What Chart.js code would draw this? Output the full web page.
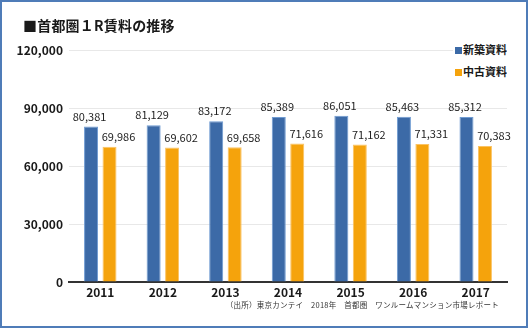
<!DOCTYPE html>
<html lang="ja">
<head>
<meta charset="utf-8">
<title>首都圏１R賃料の推移</title>
<script src="https://cdn.jsdelivr.net/npm/chart.js@4/dist/chart.umd.min.js"></script>
<style>
  html, body { margin: 0; padding: 0; background: #fff; }
  #wrap { position: relative; width: 530px; height: 330px; overflow: hidden;
          font-family: 'Noto Sans CJK JP', sans-serif; color: #1a1a1a; }
  #chart { position: absolute; left: 0; top: 0; }
  #frame { position: absolute; left: 0; top: 0; width: 528px; height: 328px;
           box-sizing: border-box; border: 2px solid #4f7cb8; pointer-events: none; }
  #title { position: absolute; left: 23px; top: 15px; font-size: 14px; font-weight: bold;
           line-height: 20px; white-space: nowrap; letter-spacing: 0.2px; }
  #legend { position: absolute; left: 453px; top: 38px; background: #fff; padding-left: 2px;
            font-size: 11px; font-weight: bold; line-height: 22px; }
  #legend span.box { display: inline-block; width: 7px; height: 7px; margin-right: 1px;
                     vertical-align: 0px; }
  #note { position: absolute; right: 31px; top: 300px; font-size: 7.5px; line-height: 10px;
          white-space: nowrap; color: #333; letter-spacing: 0.25px; }
</style>
</head>
<body>
<div id="wrap">
  <canvas id="chart" width="530" height="330"></canvas>
  <div id="title">■首都圏１R賃料の推移</div>
  <div id="legend"></div>
  <div id="note">（出所）東京カンテイ　2018年　首都圏　ワンルームマンション市場レポート</div>
  <div id="frame"></div>
</div>
<script>
// --- data ---
const years = ['2011', '2012', '2013', '2014', '2015', '2016', '2017'];
const newRent = [80381, 81129, 83172, 85389, 86051, 85463, 85312];   // 新築資料
const usedRent = [69986, 69602, 69658, 71616, 71162, 71331, 70383];  // 中古資料
const seriesNames = ['新築資料', '中古資料'];
const yMax = 120000;
const yStep = 30000;

const colors = ['#3c6aa7', '#f5a30c'];
const edgeColors = ['#6f9bd2', '#fbc363'];

Chart.defaults.font.family = "'Noto Sans CJK JP', sans-serif";
Chart.defaults.color = '#1a1a1a';

// value labels above each bar (no datalabels plugin available)
const valueLabels = {
    id: 'valueLabels',
    afterDatasetsDraw(chart) {
        const ctx = chart.ctx;
        const shift = [-1.5, 9];
        ctx.save();
        ctx.font = "11px 'Noto Sans CJK JP', sans-serif";
        ctx.fillStyle = '#222';
        ctx.textAlign = 'center';
        ctx.textBaseline = 'middle';
        chart.data.datasets.forEach((ds, i) => {
            chart.getDatasetMeta(i).data.forEach((bar, j) => {
                ctx.fillText(ds.data[j].toLocaleString('en-US'), bar.x + shift[i], bar.y - 10);
            });
        });
        ctx.restore();
    }
};

const ctx = document.getElementById('chart').getContext('2d');
const chart = new Chart(ctx, {
    type: 'bar',
    data: {
        labels: years,
        datasets: [
            {
                label: seriesNames[0],
                data: newRent,
                backgroundColor: colors[0],
                borderColor: edgeColors[0],
                borderWidth: 1,
                categoryPercentage: 0.59,
                barPercentage: 0.76
            },
            {
                label: seriesNames[1],
                data: usedRent,
                backgroundColor: colors[1],
                borderColor: edgeColors[1],
                borderWidth: 1,
                categoryPercentage: 0.59,
                barPercentage: 0.76
            }
        ]
    },
    options: {
        responsive: false,
        animation: false,
        layout: { padding: { top: 50, right: 23, bottom: 26, left: 0 } },
        plugins: {
            legend: { display: false },
            tooltip: { enabled: false }
        },
        scales: {
            x: {
                grid: { display: false, drawTicks: false },
                border: { color: '#333', width: 2 },
                ticks: { padding: 3, font: { size: 12, weight: 'bold' }, color: '#1a1a1a' },
                afterFit(scale) { scale.height = 22; }
            },
            y: {
                min: 0,
                max: yMax,
                ticks: {
                    stepSize: yStep,
                    padding: 6,
                    font: { size: 12, weight: 'bold' },
                    color: '#1a1a1a',
                    callback: v => v.toLocaleString('en-US')
                },
                grid: { color: '#e8e8e8', drawTicks: false },
                border: { display: false },
                afterFit(scale) { scale.width = 69; }
            }
        }
    },
    plugins: [valueLabels]
});

// legend, stacked in the top right corner
document.getElementById('legend').innerHTML = seriesNames.map((name, i) =>
    `<div><span class="box" style="background:${colors[i]}"></span>${name}</div>`
).join('');
</script>
</body>
</html>
